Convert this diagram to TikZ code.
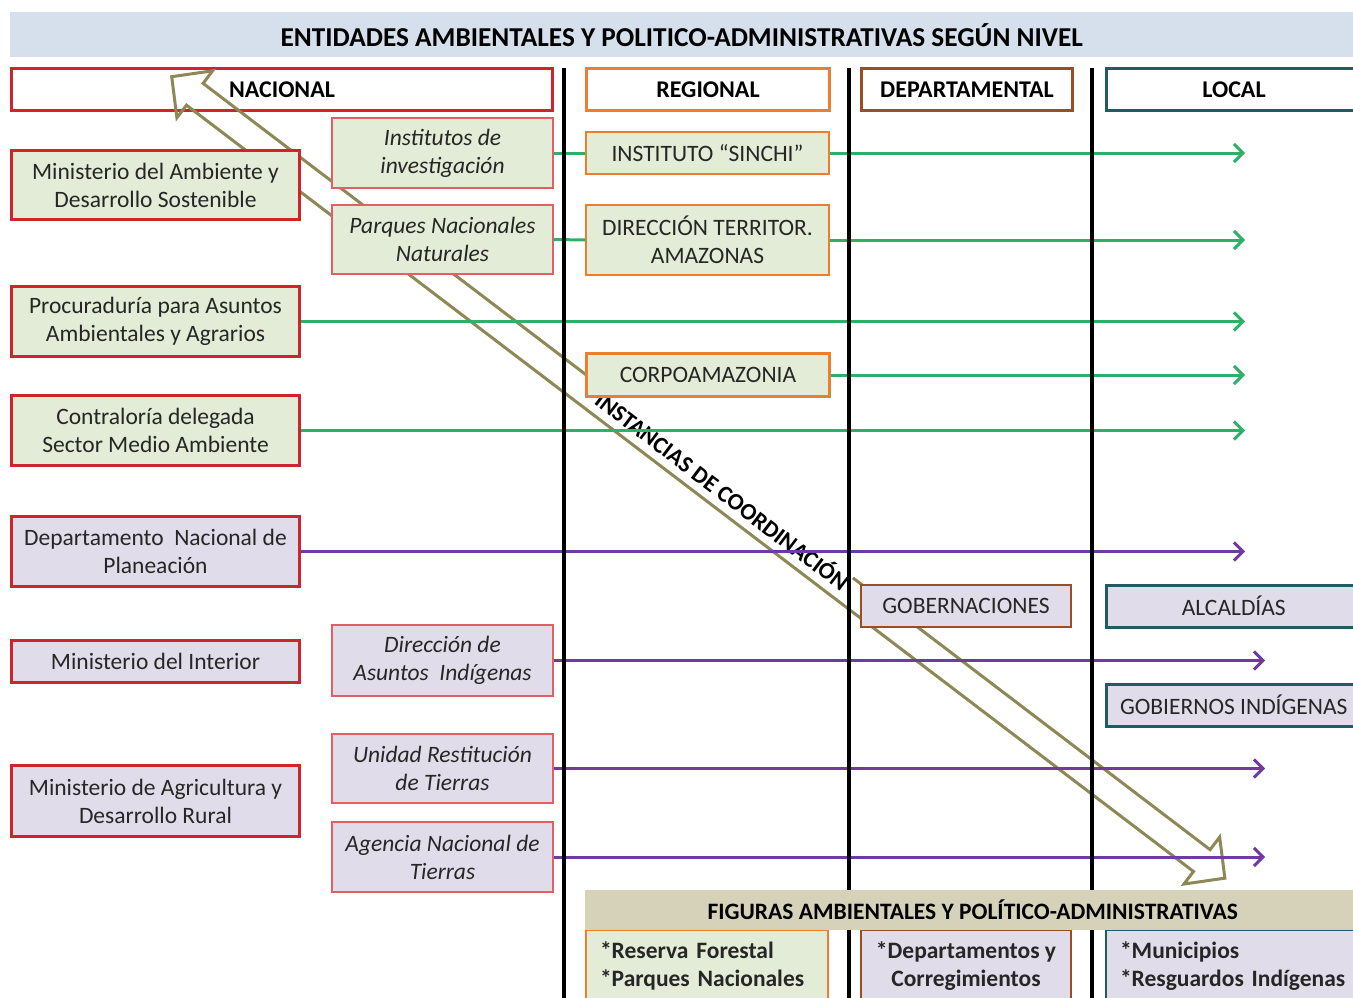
\documentclass[tikz,border=0pt]{standalone}
\usepackage{fontspec}
\setmainfont{Carlito}
\usetikzlibrary{arrows.meta}

\definecolor{ink}{RGB}{38,38,38}
\definecolor{titlebg}{RGB}{213,224,236}
\definecolor{natred}{RGB}{208,36,44}
\definecolor{natredlt}{RGB}{226,96,100}
\definecolor{regorange}{RGB}{237,125,49}
\definecolor{depbrown}{RGB}{154,78,36}
\definecolor{locteal}{RGB}{35,90,104}
\definecolor{envgreen}{RGB}{226,236,214}
\definecolor{admpurple}{RGB}{225,220,233}
\definecolor{lnkgreen}{RGB}{46,176,104}
\definecolor{lnkpurple}{RGB}{112,58,160}
\definecolor{olivearrow}{RGB}{142,136,86}
\definecolor{bandbg}{RGB}{214,210,186}

\tikzset{
  ent/.style={draw, rectangle, inner sep=0pt, align=center, text=ink,
    anchor=north west, font=\fontsize{23.5}{28}\selectfont},
  lvl/.style={draw, rectangle, inner sep=0pt, text=black,
    anchor=north west, line width=3pt, font=\bfseries\fontsize{24}{28}\selectfont},
  natbox/.style={ent, draw=natred, line width=3pt},
  subbox/.style={ent, draw=natredlt, line width=2pt, font=\itshape\fontsize{23.5}{28}\selectfont},
  regbox/.style={ent, draw=regorange, line width=2pt},
  depbox/.style={ent, draw=depbrown, line width=2pt},
  locbox/.style={ent, draw=locteal, line width=2.5pt},
  env/.style={fill=envgreen},
  adm/.style={fill=admpurple},
  figbox/.style={draw, rectangle, inner sep=0pt, text=ink, anchor=north west,
    line width=2pt, font=\bfseries\fontsize{23.5}{28}\selectfont},
  lnk/.style={line width=3pt, -{Straight Barb[length=9pt,width=18pt]}},
  plain/.style={line width=3pt},
  sep/.style={line width=3.5pt, black},
}

\begin{document}
\begin{tikzpicture}[x=1pt, y=-1pt]
\clip (0,0) rectangle (1353,998);
\fill[white] (0,0) rectangle (1353,998);

% title
\node[fill=titlebg, inner sep=0pt, anchor=north west, minimum width=1343, minimum height=45,
      font=\bfseries\fontsize{27.3}{30}\selectfont, text=black] (title) at (10,12)
  {ENTIDADES AMBIENTALES Y POLITICO-ADMINISTRATIVAS SEGÚN NIVEL};

% level headers
\node[lvl, draw=natred, minimum width=541, minimum height=42] (nac) at (10,67) {NACIONAL};
\node[lvl, draw=regorange, minimum width=243, minimum height=42] (reg) at (585,67) {REGIONAL};
\node[lvl, draw=depbrown, minimum width=211, minimum height=42] (dep) at (860,67) {DEPARTAMENTAL};
\node[lvl, draw=locteal, minimum width=255, minimum height=42] (loc) at (1105,67) {LOCAL};

% coordination arrow between national and local levels
\coordinate (hA) at (171.7,76.7);
\begin{scope}[shift={(hA)}, rotate=-37.27]
  \draw[olivearrow, line width=3pt, line join=miter]
    (0,0) -- (29,-29.5) -- (29,-13.7) -- (1294.5,-13.7) -- (1294.5,-29.5)
    -- (1323.5,0) -- (1294.5,29.5) -- (1294.5,13.7) -- (29,13.7) -- (29,29.5) -- cycle;
  \node[transform shape, fill=white, inner xsep=1pt, inner ysep=6pt,
        text height=15pt, text depth=0pt,
        font=\bfseries\fontsize{23.5}{28}\selectfont] (coord) at (689,-2.6)
    {INSTANCIAS DE COORDINACIÓN};
\end{scope}

% arrow end columns
\coordinate (tipA) at (1245,0);
\coordinate (tipB) at (1265,0);

% column separators
\coordinate (s1t) at (564,68);  \coordinate (s1b) at (564,998);
\coordinate (s2t) at (849,68);  \coordinate (s2b) at (849,998);
\coordinate (s3t) at (1092,68); \coordinate (s3b) at (1092,998);

% national entities
\node[natbox, env, minimum width=288, minimum height=69] (mads) at (10,149)
  {Ministerio del Ambiente y\\Desarrollo Sostenible};
\node[natbox, env, minimum width=288, minimum height=70] (proc) at (10,285)
  {Procuraduría para Asuntos\\Ambientales y Agrarios};
\node[natbox, env, minimum width=288, minimum height=70] (contr) at (10,394)
  {Contraloría delegada\\Sector Medio Ambiente};
\node[natbox, adm, minimum width=288, minimum height=70] (dnp) at (10,515)
  {Departamento~ Nacional de\\Planeación};
\node[natbox, adm, minimum width=288, minimum height=42] (mint) at (10,639)
  {Ministerio del Interior};
\node[natbox, adm, minimum width=288, minimum height=71] (magr) at (10,764)
  {Ministerio de Agricultura y\\Desarrollo Rural};

% attached national agencies
\node[subbox, env, minimum width=221, minimum height=70] (inst) at (331,117)
  {Institutos de\\investigación};
\node[subbox, env, minimum width=221, minimum height=69] (pnn) at (331,204)
  {Parques Nacionales\\Naturales};
\node[subbox, adm, minimum width=221, minimum height=71] (dai) at (331,624)
  {Dirección de\\Asuntos~ Indígenas};
\node[subbox, adm, minimum width=221, minimum height=69] (urt) at (331,733)
  {Unidad Restitución\\de Tierras};
\node[subbox, adm, minimum width=221, minimum height=70] (ant) at (331,821)
  {Agencia Nacional de\\Tierras};

% regional entities
\node[regbox, env, minimum width=243, minimum height=42] (sinchi) at (585,131)
  {INSTITUTO “SINCHI”};
\node[regbox, env, minimum width=243, minimum height=70] (dtam) at (585,204)
  {DIRECCIÓN TERRITOR.\\AMAZONAS};
\node[regbox, env, line width=3pt, minimum width=243, minimum height=43] (corpo) at (585,352)
  {CORPOAMAZONIA};

% departmental and local entities
\node[depbox, adm, minimum width=210, minimum height=42] (gob) at (860,584) {GOBERNACIONES};
\node[locbox, adm, minimum width=255, minimum height=42] (alc) at (1105,584) {ALCALDÍAS};
\node[locbox, adm, minimum width=255, minimum height=42] (gind) at (1105,683) {GOBIERNOS INDÍGENAS};

% environmental links
\draw[plain, lnkgreen] (inst.east) -- (sinchi.west);
\draw[lnk, lnkgreen] (sinchi.east) -- (sinchi.east -| tipA);
\draw[plain, lnkgreen] (pnn.east) -- (dtam.west);
\draw[lnk, lnkgreen] (dtam.east) -- (dtam.east -| tipA);
\draw[lnk, lnkgreen] (proc.east) -- (proc.east -| tipA);
\draw[lnk, lnkgreen] (corpo.east) -- (corpo.east -| tipA);
\draw[lnk, lnkgreen] (contr.east) -- (contr.east -| tipA);

% political-administrative links
\draw[lnk, lnkpurple] (dnp.east) -- (dnp.east -| tipA);
\draw[lnk, lnkpurple] (dai.east) -- (dai.east -| tipB);
\draw[lnk, lnkpurple] (urt.east) -- (urt.east -| tipB);
\draw[lnk, lnkpurple] (ant.east) -- (ant.east -| tipB);

% separators drawn over the links
\draw[sep] (s1t) -- (s1b);
\draw[sep] (s2t) -- (s2b);
\draw[sep] (s3t) -- (s3b);

% figures per level
\node[figbox, draw=regorange, fill=envgreen, minimum width=242, minimum height=72,
      text width=214, align=left] (fig1) at (585,929)
  {*Reserva Forestal\\{}*Parques Nacionales};
\node[figbox, draw=depbrown, fill=admpurple, minimum width=210, minimum height=72,
      align=center] (fig2) at (860,929)
  {*Departamentos y\\Corregimientos};
\node[figbox, draw=locteal, fill=admpurple, minimum width=255, minimum height=72,
      text width=227, align=left] (fig3) at (1105,929)
  {*Municipios\\{}*Resguardos Indígenas};
\node[fill=bandbg, inner sep=0pt, anchor=north west, minimum width=775, minimum height=40,
      font=\bfseries\fontsize{23.5}{28}\selectfont, text=black] (band) at (585,890)
  {FIGURAS AMBIENTALES Y POLÍTICO-ADMINISTRATIVAS};
\end{tikzpicture}
\end{document}
